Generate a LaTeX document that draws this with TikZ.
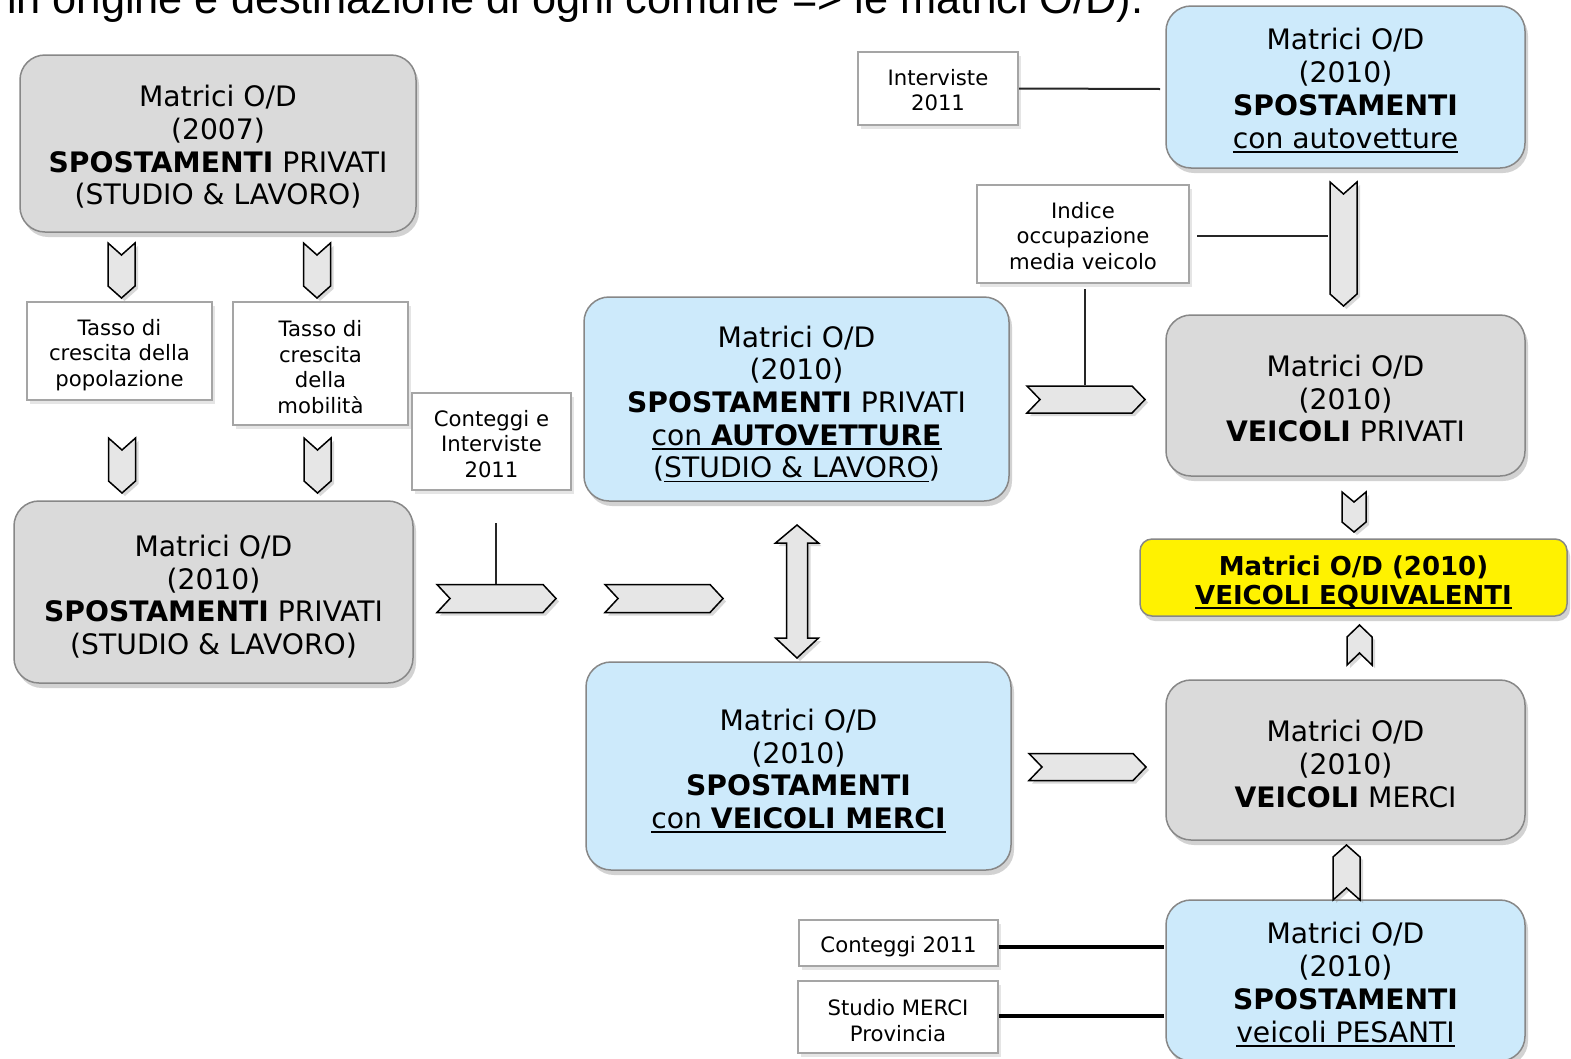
\documentclass[tikz,border=0pt]{standalone}
\usepackage{fontspec}
\setmainfont{DejaVu Sans}
\newfontfamily\topfont{Liberation Sans}
\usetikzlibrary{shadows}
\definecolor{boxgray}{RGB}{218,218,218}
\definecolor{boxblue}{RGB}{205,234,251}
\definecolor{bordergray}{RGB}{135,135,135}
\definecolor{tbborder}{RGB}{165,165,165}
\definecolor{chevfill}{RGB}{230,230,230}
\newcommand{\UL}[1]{\setbox0\hbox{#1}\rlap{\rule[-4.5pt]{\wd0}{1.8pt}}\box0}
\newcommand{\ChevV}[5]{\draw[chev] (#1-#4,#2) -- (#1,#2+#5) -- (#1+#4,#2) -- (#1+#4,#3-#5) -- (#1,#3) -- (#1-#4,#3-#5) -- cycle;}
\newcommand{\ChevH}[5]{\draw[chev] (#2,#1-#4) -- (#2+#5,#1) -- (#2,#1+#4) -- (#3-#5,#1+#4) -- (#3,#1) -- (#3-#5,#1-#4) -- cycle;}
\tikzset{
  big/.style={font={\fontsize{28.2}{32.7}\selectfont}, align=center, inner sep=0pt},
  small/.style={font={\fontsize{21.2}{25.5}\selectfont}, align=center, inner sep=0pt},
  yeltext/.style={font={\fontsize{26}{29}\selectfont\bfseries}, align=center, inner sep=0pt},
  gbox/.style={rectangle, inner sep=0pt, rounded corners=25pt, fill=boxgray, draw=bordergray, line width=1.5pt,
     drop shadow={opacity=0.35, shadow xshift=3pt, shadow yshift=-5pt}},
  bbox/.style={gbox, fill=boxblue},
  tbox/.style={rectangle, inner sep=0pt, fill=white, draw=tbborder, line width=2pt,
     drop shadow={opacity=0.2, shadow xshift=3pt, shadow yshift=-4pt}},
  chev/.style={fill=chevfill, draw=black, line width=1.5pt, line join=miter,
     drop shadow={opacity=0.3, shadow xshift=3pt, shadow yshift=-3pt}},
  conn/.style={draw=black!85, line width=2pt},
  thick conn/.style={draw=black, line width=4pt}
}
\begin{document}
\begin{tikzpicture}[x=1pt,y=-1pt]
\clip (0,0) rectangle (1571,1058);
\fill[white] (0,0) rectangle (1571,1058);

% top cut-off text
\node[anchor=base west, inner sep=0pt] (toptext) at (7,13.5)
  {\resizebox{1136pt}{!}{\topfont in origine e destinazione di ogni comune => le matrici O/D).}};

% ---------- boxes ----------
\node[gbox, minimum width=396pt, minimum height=177pt] (g07) at (218,143.5) {};
\node[big] (g07t) at ([yshift=-3.5pt]g07.center)
  {Matrici O/D\\(2007)\\\textbf{SPOSTAMENTI} PRIVATI\\(STUDIO \& LAVORO)};
\node[gbox, minimum width=399pt, minimum height=182pt] (g10) at (213.5,592) {};
\node[big] (g10t) at ([yshift=-4.5pt]g10.center)
  {Matrici O/D\\(2010)\\\textbf{SPOSTAMENTI} PRIVATI\\(STUDIO \& LAVORO)};
\node[tbox, minimum width=185pt, minimum height=98pt] (tp1) at (119.5,351) {};
\node[small] (tp1t) at ([yshift=-4pt]tp1.center) {Tasso di\\crescita della\\popolazione};
\node[tbox, minimum width=175pt, minimum height=123pt] (tp2) at (320.5,363.5) {};
\node[small] (tp2t) at ([yshift=-3.5pt]tp2.center) {Tasso di\\crescita\\della\\mobilità};
\node[tbox, minimum width=159pt, minimum height=97pt] (cint) at (491.5,441.5) {};
\node[small] (cintt) at ([yshift=-2.5pt]cint.center) {Conteggi e\\Interviste\\2011};

\node[bbox, minimum width=425pt, minimum height=204pt] (bauto) at (796.5,399) {};
\node[big] (bautot) at ([yshift=-5pt]bauto.center)
  {Matrici O/D\\(2010)\\\textbf{SPOSTAMENTI} PRIVATI\\\UL{con \textbf{AUTOVETTURE}}\\(\UL{STUDIO \& LAVORO})};
\node[bbox, minimum width=425pt, minimum height=208pt] (bmerci) at (798.5,766) {};
\node[big] (bmercit) at ([yshift=-5pt]bmerci.center)
  {Matrici O/D\\(2010)\\\textbf{SPOSTAMENTI}\\\UL{con \textbf{VEICOLI MERCI}}};
\node[tbox, minimum width=160pt, minimum height=73pt] (int11) at (938,88.5) {};
\node[small] (int11t) at ([yshift=-1.5pt]int11.center) {Interviste\\2011};
\node[tbox, minimum width=212pt, minimum height=98pt] (ind) at (1083,234) {};
\node[small] (indt) at ([yshift=-2pt]ind.center) {Indice\\occupazione\\media veicolo};
\node[tbox, minimum width=199pt, minimum height=46pt] (c2011) at (898.5,943) {};
\node[small] (c2011t) at ([yshift=-3.5pt]c2011.center) {Conteggi 2011};
\node[tbox, minimum width=200pt, minimum height=72pt] (smp) at (898,1017) {};
\node[small] (smpt) at ([yshift=-3.5pt]smp.center) {Studio MERCI\\Provincia};

\node[bbox, minimum width=359pt, minimum height=162pt] (btop) at (1345.5,87) {};
\node[big] (btopt) at ([yshift=-3.5pt]btop.center)
  {Matrici O/D\\(2010)\\\textbf{SPOSTAMENTI}\\\UL{con autovetture}};
\node[gbox, minimum width=359pt, minimum height=161pt] (gpriv) at (1345.5,395.5) {};
\node[big] (gprivt) at ([yshift=-3pt]gpriv.center)
  {Matrici O/D\\(2010)\\\textbf{VEICOLI} PRIVATI};
\node[gbox, rounded corners=12pt, fill=yellow, minimum width=427pt, minimum height=77pt] (yel) at (1353.5,577.5) {};
\node[yeltext] (yelt) at ([yshift=-4.5pt]yel.center)
  {Matrici O/D (2010)\\\UL{VEICOLI EQUIVALENTI}};
\node[gbox, minimum width=359pt, minimum height=160pt] (gmerci) at (1345.5,760) {};
\node[big] (gmercit) at ([yshift=-4pt]gmerci.center)
  {Matrici O/D\\(2010)\\\textbf{VEICOLI} MERCI};
\node[bbox, minimum width=359pt, minimum height=161pt] (bpes) at (1345.5,980.5) {};
\node[big] (bpest) at ([yshift=-4pt]bpes.center)
  {Matrici O/D\\(2010)\\\textbf{SPOSTAMENTI}\\\UL{veicoli PESANTI}};

% ---------- block arrows (chevrons) ----------
\ChevV{121.5}{243}{298}{13.5}{12}
\ChevV{317}{243}{298}{13.5}{12}
\ChevV{122}{438}{493}{13.5}{12}
\ChevV{317.5}{438}{493}{13.5}{12}
\ChevH{598.5}{437}{556}{14}{13}
\ChevH{598.5}{605}{723}{14}{13}
\ChevH{399.5}{1027}{1145}{13.5}{13}
\ChevH{767}{1029}{1146}{13.5}{13}
\ChevV{1343.5}{182}{306}{13.5}{12}
\ChevV{1354}{492}{532}{12}{10}
\ChevV{1359.5}{665}{625}{12.5}{-12}
\ChevV{1346.5}{900}{845}{13.5}{-12}
\draw[chev] (797,525) -- (818.5,543) -- (807.5,543) -- (807.5,638) -- (818.5,638) -- (797,658)
  -- (775.5,638) -- (786.5,638) -- (786.5,543) -- (775.5,543) -- cycle;

% ---------- connector lines ----------
\coordinate (e1) at (1160,89);
\coordinate (e2a) at (1197,235.5);
\coordinate (e2b) at (1328,235.5);
\coordinate (e3a) at (1084.5,289);
\coordinate (e3b) at (1084.5,385);
\coordinate (e4a) at (496,523);
\coordinate (e4b) at (496,584);
\coordinate (e5) at (1164,947);
\coordinate (e6) at (1164,1016);
\draw[conn] (int11.east) -- (e1);
\draw[conn] (e2a) -- (e2b);
\draw[conn] (e3a) -- (e3b);
\draw[conn] (e4a) -- (e4b);
\draw[thick conn] (c2011.east |- e5) -- (e5);
\draw[thick conn] (smp.east |- e6) -- (e6);
\end{tikzpicture}
\end{document}
